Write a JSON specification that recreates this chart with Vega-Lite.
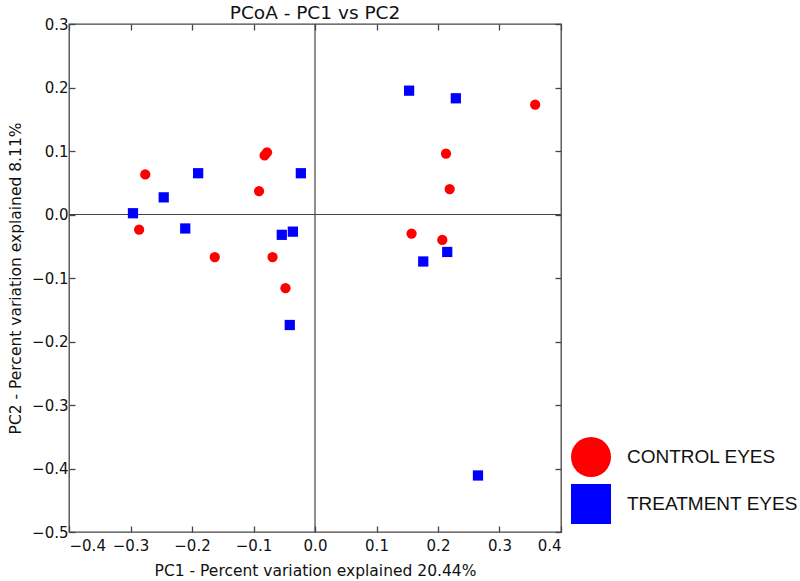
{
  "$schema": "https://vega.github.io/schema/vega-lite/v6.json",
  "width": 492,
  "height": 508,
  "autosize": "none",
  "padding": {"left": 69, "top": 24, "right": 239, "bottom": 49},
  "background": "white",
  "title": {"text": "PCoA - PC1 vs PC2", "font": "DejaVu Sans", "fontSize": 18.5, "fontWeight": "normal", "color": "#111", "offset": -5},
  "config": {
    "view": {"stroke": "#444", "strokeWidth": 1.3},
    "axis": {"domain": false, "grid": false, "tickColor": "#444", "tickSize": -6, "tickWidth": 1.3, "labelFont": "DejaVu Sans", "labelFontSize": 15, "labelColor": "#111", "titleFont": "DejaVu Sans", "titleFontSize": 15.5, "titleFontWeight": "normal", "titleColor": "#111"}
  },
  "resolve": {"axis": {"x": "independent", "y": "independent"}},
  "layer": [
    {
      "data": {"values": [{"z": 0}]},
      "mark": {"type": "rule", "color": "#444", "strokeWidth": 1.2},
      "encoding": {
        "x": {"field": "z", "type": "quantitative", "scale": {"domain": [-0.4, 0.4], "nice": false, "zero": false},
              "axis": {"orient": "top", "labels": false, "title": null, "values": [-0.4,-0.3,-0.2,-0.1,0,0.1,0.2,0.3,0.4]}}
      }
    },
    {
      "data": {"values": [{"z": 0}]},
      "mark": {"type": "rule", "color": "#444", "strokeWidth": 1.2},
      "encoding": {
        "y": {"field": "z", "type": "quantitative", "scale": {"domain": [-0.5, 0.3], "nice": false, "zero": false},
              "axis": {"orient": "right", "labels": false, "title": null, "values": [-0.5,-0.4,-0.3,-0.2,-0.1,0,0.1,0.2,0.3]}}
      }
    },
    {
      "data": {"values": [
        {"pc1": -0.276, "pc2": 0.063, "group": "CONTROL EYES"},
        {"pc1": -0.286, "pc2": -0.024, "group": "CONTROL EYES"},
        {"pc1": -0.163, "pc2": -0.067, "group": "CONTROL EYES"},
        {"pc1": -0.082, "pc2": 0.093, "group": "CONTROL EYES"},
        {"pc1": -0.078, "pc2": 0.098, "group": "CONTROL EYES"},
        {"pc1": -0.091, "pc2": 0.037, "group": "CONTROL EYES"},
        {"pc1": -0.069, "pc2": -0.067, "group": "CONTROL EYES"},
        {"pc1": -0.048, "pc2": -0.116, "group": "CONTROL EYES"},
        {"pc1": 0.358, "pc2": 0.173, "group": "CONTROL EYES"},
        {"pc1": 0.213, "pc2": 0.096, "group": "CONTROL EYES"},
        {"pc1": 0.219, "pc2": 0.040, "group": "CONTROL EYES"},
        {"pc1": 0.157, "pc2": -0.030, "group": "CONTROL EYES"},
        {"pc1": 0.207, "pc2": -0.040, "group": "CONTROL EYES"},
        {"pc1": -0.296, "pc2": 0.002, "group": "TREATMENT EYES"},
        {"pc1": -0.246, "pc2": 0.027, "group": "TREATMENT EYES"},
        {"pc1": -0.190, "pc2": 0.065, "group": "TREATMENT EYES"},
        {"pc1": -0.211, "pc2": -0.022, "group": "TREATMENT EYES"},
        {"pc1": -0.054, "pc2": -0.032, "group": "TREATMENT EYES"},
        {"pc1": -0.036, "pc2": -0.027, "group": "TREATMENT EYES"},
        {"pc1": -0.023, "pc2": 0.065, "group": "TREATMENT EYES"},
        {"pc1": -0.041, "pc2": -0.174, "group": "TREATMENT EYES"},
        {"pc1": 0.153, "pc2": 0.195, "group": "TREATMENT EYES"},
        {"pc1": 0.229, "pc2": 0.183, "group": "TREATMENT EYES"},
        {"pc1": 0.176, "pc2": -0.074, "group": "TREATMENT EYES"},
        {"pc1": 0.215, "pc2": -0.059, "group": "TREATMENT EYES"},
        {"pc1": 0.265, "pc2": -0.411, "group": "TREATMENT EYES"}
      ]},
      "mark": {"type": "point", "filled": true, "opacity": 1, "size": 105},
      "encoding": {
        "x": {"field": "pc1", "type": "quantitative", "scale": {"domain": [-0.4, 0.4], "nice": false, "zero": false},
              "axis": {"orient": "bottom", "values": [-0.4,-0.3,-0.2,-0.1,0,0.1,0.2,0.3,0.4], "labelExpr": "replace(format(datum.value, '.1f'), '-', '\u2212')", "labelPadding": 12, "title": "PC1 - Percent variation explained 20.44%", "titlePadding": 10}},
        "y": {"field": "pc2", "type": "quantitative", "scale": {"domain": [-0.5, 0.3], "nice": false, "zero": false},
              "axis": {"orient": "left", "values": [-0.5,-0.4,-0.3,-0.2,-0.1,0,0.1,0.2,0.3], "labelExpr": "replace(format(datum.value, '.1f'), '-', '\u2212')", "labelPadding": 7, "title": "PC2 - Percent variation explained 8.11%", "titlePadding": 8}},
        "color": {"field": "group", "type": "nominal", "scale": {"domain": ["CONTROL EYES", "TREATMENT EYES"], "range": ["#ff0000", "#0000ff"]},
                  "legend": {"orient": "none", "legendX": 502, "legendY": 413, "title": null, "symbolSize": 1600, "symbolStrokeWidth": 0, "symbolOpacity": 1, "labelFont": "Liberation Sans", "labelFontSize": 19, "labelColor": "#111", "labelOffset": 16, "labelLimit": 400, "rowPadding": 7, "padding": 0}},
        "shape": {"field": "group", "type": "nominal", "scale": {"domain": ["CONTROL EYES", "TREATMENT EYES"], "range": ["circle", "square"]}}
      }
    }
  ]
}
